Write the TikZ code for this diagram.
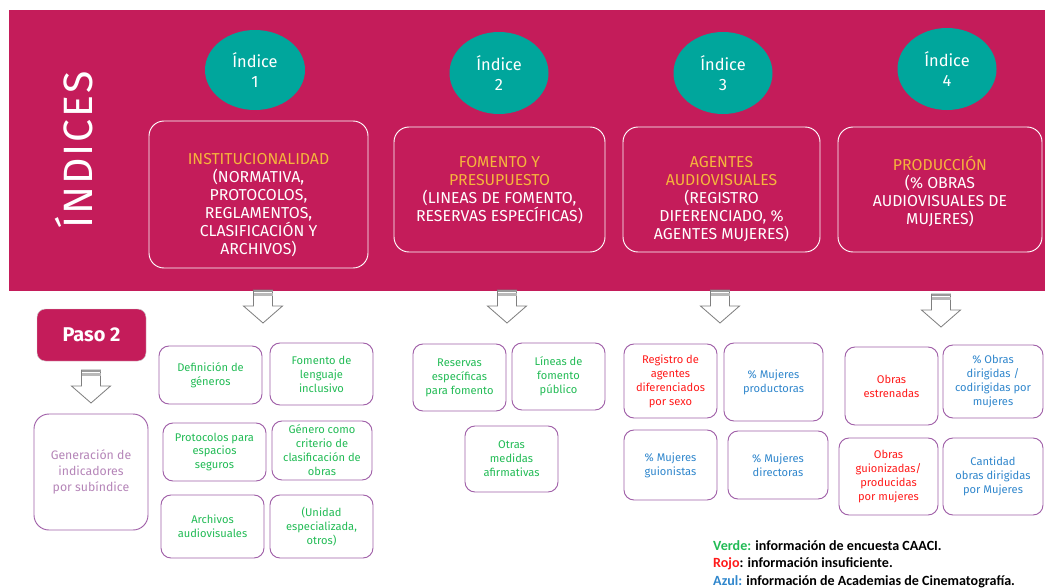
\documentclass[tikz,border=0pt]{standalone}
\usepackage{fontspec}
\setmainfont{Fira Sans}
\newfontfamily\legendfont{Carlito}
\usetikzlibrary{shapes.geometric}

\definecolor{bandpink}{HTML}{C41C5A}
\definecolor{teal}{HTML}{00A69C}
\definecolor{titleorange}{HTML}{F5B43C}
\definecolor{boxpurple}{HTML}{A060A8}
\definecolor{lavender}{HTML}{B585B8}
\definecolor{vgreen}{HTML}{22BB55}
\definecolor{vred}{HTML}{FF1A1A}
\definecolor{vblue}{HTML}{2F86CC}
\definecolor{arrowgray}{HTML}{7F7F7F}

\begin{document}
\begin{tikzpicture}[x=0.03cm,y=-0.03cm,
  sz/.style 2 args={minimum width=#1*0.03cm, minimum height=#2*0.03cm},
  indice/.style={ellipse, fill=teal, inner sep=0pt, text=white, align=center,
    font=\fontsize{14}{17}\selectfont},
  bigbox/.style={draw=white, line width=0.8pt, rounded corners=0.45cm, fill=bandpink, inner sep=0pt},
  bigtext/.style={anchor=north, align=center, text=white, inner sep=0pt,
    font=\fontsize{13.5}{15.4}\selectfont},
  smallbox/.style={draw=boxpurple, line width=0.8pt, rounded corners=0.3cm, align=center,
    inner sep=0pt, font=\fontsize{9.5}{11.9}\selectfont},
  verde/.style={smallbox, text=vgreen},
  rojo/.style={smallbox, text=vred},
  azul/.style={smallbox, text=vblue},
  blockarrow/.style={draw=arrowgray, line width=0.7pt, fill=white, line join=miter}]

  \useasboundingbox (0,0) rectangle (1045,587);

  % band with the four indices
  \fill[bandpink] (9,10) rectangle (1045,291);
  \node[rotate=90, text=white, font=\fontsize{35}{35}\selectfont\addfontfeature{LetterSpace=5}]
    (indices) at (74,150) {ÍNDICES};

  \node[indice, sz={100}{80}] (ind1) at (255,70) {Índice\\1};
  \node[indice, sz={99}{82}] (ind2) at (499,73) {Índice\\2};
  \node[indice, sz={99}{82}] (ind3) at (723,73) {Índice\\3};
  \node[indice, sz={99}{82}] (ind4) at (947,69) {Índice\\4};

  \node[bigbox, sz={219}{147}] (inst) at (258.5,194.5) {};
  \node[bigbox, sz={211}{125}] (fomento) at (499.5,189.5) {};
  \node[bigbox, sz={197}{125}] (agentes) at (721.5,189.5) {};
  \node[bigbox, sz={204}{125}] (produccion) at (940,189.5) {};

  \node[bigtext] (insttxt) at (258.5,153) {\textcolor{titleorange}{INSTITUCIONALIDAD}\\(NORMATIVA,\\PROTOCOLOS,\\REGLAMENTOS,\\CLASIFICACIÓN Y\\ARCHIVOS)};
  \node[bigtext] (fomentotxt) at (499.5,156) {\textcolor{titleorange}{FOMENTO Y}\\\textcolor{titleorange}{PRESUPUESTO}\\(LINEAS DE FOMENTO,\\RESERVAS ESPECÍFICAS)};
  \node[bigtext] (agentestxt) at (721.5,156) {\textcolor{titleorange}{AGENTES}\\\textcolor{titleorange}{AUDIOVISUALES}\\(REGISTRO\\DIFERENCIADO, \%\\AGENTES MUJERES)};
  \node[bigtext] (producciontxt) at (940,156) {\textcolor{titleorange}{PRODUCCIÓN}\\(\% OBRAS\\AUDIOVISUALES DE\\MUJERES)};

  % striped block arrows
  \foreach \ax/\ay in {263/290, 507/290, 720/290, 941/294, 91/370}{
    \draw[blockarrow] (\ax-9.5,\ay) -- (\ax-9.5,\ay+16) -- (\ax-19.5,\ay+16) -- (\ax,\ay+33)
      -- (\ax+19.5,\ay+16) -- (\ax+9.5,\ay+16) -- (\ax+9.5,\ay) -- cycle;
    \fill[gray!80] (\ax-9.5,\ay) rectangle (\ax+9.5,\ay+2);
    \fill[gray!55] (\ax-9.5,\ay+3.2) rectangle (\ax+9.5,\ay+5.5);
  }

  % paso 2
  \node[fill=bandpink, draw=gray!40, rounded corners=0.25cm, sz={109}{52}, text=white,
    font=\fontsize{17}{17}\selectfont\bfseries] (paso) at (91.5,335) {Paso 2};
  \node[draw=boxpurple, line width=0.8pt, rounded corners=0.45cm, sz={114}{116}, align=center,
    text=lavender, font=\fontsize{10.5}{13.6}\selectfont] (generacion) at (91,472)
    {Generación de\\indicadores\\por subíndice};

  % subindices
  \node[verde, sz={103}{58}] (definicion) at (210.5,375) {Definición de\\géneros};
  \node[verde, sz={103}{62}] (lenguaje) at (321.5,374) {Fomento de\\lenguaje\\inclusivo};
  \node[verde, sz={103}{58}] (protocolos) at (214.5,452) {Protocolos para\\espacios\\seguros};
  \node[verde, sz={100}{59}] (criterio) at (322,450.5) {Género como\\criterio de\\clasificación de\\obras};
  \node[verde, sz={103}{63}] (archivos) at (212.5,526.5) {Archivos\\audiovisuales};
  \node[verde, sz={103}{63}] (unidad) at (321.5,526.5) {(Unidad\\especializada,\\otros)};

  \node[verde, sz={93}{67}] (reservas) at (459.5,377.5) {Reservas\\específicas\\para fomento};
  \node[verde, sz={93}{67}] (lineas) at (558.5,376.5) {Líneas de\\fomento\\público};
  \node[verde, sz={93}{66}] (otras) at (511.5,459) {Otras\\medidas\\afirmativas};

  \node[rojo, sz={93}{74}] (registro) at (670.5,381) {Registro de\\agentes\\diferenciados\\por sexo};
  \node[azul, sz={99}{78}] (productoras) at (773.5,382) {\% Mujeres\\productoras};
  \node[azul, sz={93}{70}] (guionistas) at (670.5,465) {\% Mujeres\\guionistas};
  \node[azul, sz={100}{68}] (directoras) at (778,465) {\% Mujeres\\directoras};

  \node[rojo, sz={93}{78}] (estrenadas) at (891.5,386) {Obras\\estrenadas};
  \node[azul, sz={100}{73}] (dirigidas) at (993,381.5) {\% Obras\\dirigidas /\\codirigidas por\\mujeres};
  \node[rojo, sz={99}{77}] (guionizadas) at (888.5,476.5) {Obras\\guionizadas/\\producidas\\por mujeres};
  \node[azul, sz={100}{77}] (cantidad) at (993,476.5) {Cantidad\\obras dirigidas\\por Mujeres};

  % legend
  \node[anchor=north west, align=left, inner sep=0pt,
    font=\legendfont\fontsize{12}{15}\selectfont\bfseries] (legend) at (713,540)
    {\textcolor{vgreen}{Verde:} información de encuesta CAACI.\\
     \textcolor{vred}{Rojo}: información insuficiente.\\
     \textcolor{vblue}{Azul:} información de Academias de Cinematografía.};
\end{tikzpicture}
\end{document}
